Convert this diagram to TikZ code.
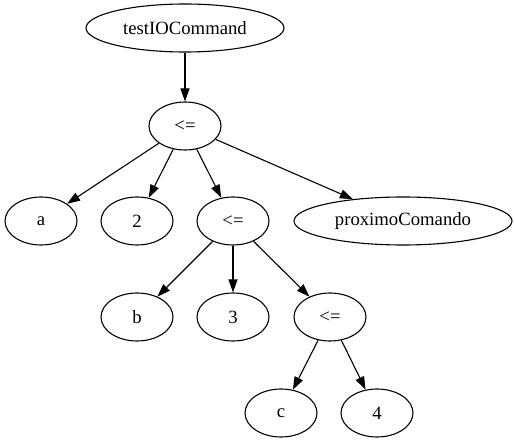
\documentclass[tikz,border=0pt]{standalone}
\usepackage{fontspec}
\setmainfont{Liberation Serif}
\usetikzlibrary{shapes,arrows.meta,positioning}

\begin{document}
\begin{tikzpicture}[x=1pt, y=-1pt, ->, >={Triangle[length=13pt,width=9pt]}, line width=1.1pt, every node/.style={font=\fontsize{18.7}{22}\selectfont}]
    \tikzset{treenode/.style={draw, ellipse, line width=1.1pt, minimum width=72pt, minimum height=48pt, inner sep=0pt}}
    \useasboundingbox (0,0) rectangle (515,443);

    \node[treenode, minimum width=198pt] (TEST) at (185,28) {testIOCommand};
    \node[treenode] (LEQ1) at (185,126) {<=};
    \node[treenode] (A) at (41,221) {a};
    \node[treenode] (TWO) at (137,221) {2};
    \node[treenode] (LEQ2) at (233,221) {<=};
    \node[treenode, minimum width=218pt] (PROX) at (403,221) {proximoComando};
    \node[treenode] (B) at (137,317) {b};
    \node[treenode] (THREE) at (233,317) {3};
    \node[treenode] (LEQ3) at (330,317) {<=};
    \node[treenode] (C) at (281,413) {c};
    \node[treenode] (FOUR) at (377,413) {4};

    \path (TEST) edge (LEQ1)
          (LEQ1) edge (A)
          (LEQ1) edge (TWO)
          (LEQ1) edge (LEQ2)
          (LEQ1) edge (PROX)
          (LEQ2) edge (B)
          (LEQ2) edge (THREE)
          (LEQ2) edge (LEQ3)
          (LEQ3) edge (C)
          (LEQ3) edge (FOUR);
\end{tikzpicture}
\end{document}
